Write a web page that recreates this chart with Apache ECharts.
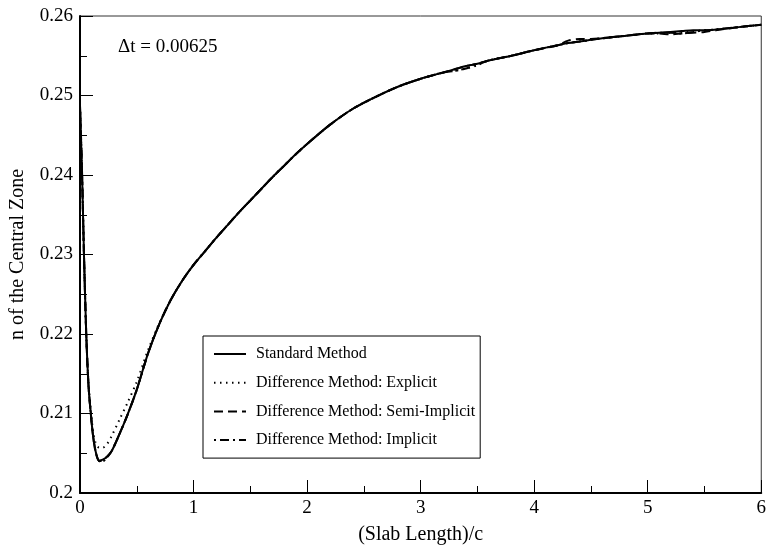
<!DOCTYPE html>
<html>
<head>
<meta charset="utf-8">
<script src="https://cdn.jsdelivr.net/npm/echarts@6/dist/echarts.min.js"></script>
<style>
  html, body { margin: 0; padding: 0; background: #fff; }
  #chart { width: 769px; height: 550px; }
</style>
</head>
<body>
<div id="chart"></div>
<script>
// Shared x values (Slab Length)/c
const xValues = [0, 0.01, 0.02, 0.035, 0.055, 0.075, 0.095, 0.115, 0.14, 0.17,
  0.2, 0.24, 0.28, 0.35, 0.42, 0.5, 0.6, 0.7, 0.8, 0.9,
  1.0, 1.1, 1.2, 1.3, 1.4, 1.5, 1.6, 1.7, 1.8, 1.9,
  2.0, 2.2, 2.4, 2.6, 2.8, 3.0, 3.2, 3.3, 3.4, 3.5,
  3.6, 3.8, 4.0, 4.2, 4.3, 4.4, 4.5, 4.6, 4.8, 5.0,
  5.1, 5.2, 5.3, 5.4, 5.5, 5.6, 5.8, 6.0];

const standardMethod = [0.2487, 0.2440, 0.2390, 0.2300, 0.2200, 0.2135, 0.2100, 0.2072, 0.2051, 0.2041,
  0.2042, 0.2046, 0.2053, 0.2075, 0.2099, 0.2130, 0.2176, 0.2213, 0.2243, 0.2267,
  0.2287, 0.2304, 0.2321, 0.2337, 0.2353, 0.2368, 0.2383, 0.2398, 0.2412, 0.2426,
  0.2439, 0.2463, 0.2483, 0.2498, 0.2511, 0.2521, 0.2529, 0.2533, 0.2537, 0.2540,
  0.2544, 0.2550, 0.2557, 0.2563, 0.2566, 0.2568, 0.2570, 0.2572, 0.2575, 0.2578,
  0.2579, 0.2580, 0.2581, 0.2582, 0.2582, 0.2583, 0.2586, 0.2589];

const explicitMethod = [0.2487, 0.2440, 0.2390, 0.2300, 0.2200, 0.2138, 0.2104, 0.2078, 0.2062, 0.2057,
  0.2057, 0.2062, 0.2072, 0.2093, 0.2114, 0.2140, 0.2180, 0.2214, 0.2243, 0.2267,
  0.2287, 0.2304, 0.2321, 0.2337, 0.2353, 0.2368, 0.2383, 0.2398, 0.2412, 0.2426,
  0.2439, 0.2463, 0.2483, 0.2498, 0.2511, 0.2521, 0.2529, 0.2531, 0.2534, 0.2538,
  0.2544, 0.2550, 0.2557, 0.2563, 0.2566, 0.2568, 0.2570, 0.2572, 0.2575, 0.2578,
  0.2578, 0.2579, 0.2580, 0.2581, 0.2582, 0.2583, 0.2586, 0.2589];

const semiImplicitMethod = [0.2487, 0.2440, 0.2390, 0.2300, 0.2200, 0.2135, 0.2100, 0.2072, 0.2051, 0.2040,
  0.2041, 0.2046, 0.2053, 0.2075, 0.2099, 0.2130, 0.2176, 0.2213, 0.2243, 0.2267,
  0.2287, 0.2304, 0.2321, 0.2337, 0.2353, 0.2368, 0.2383, 0.2398, 0.2412, 0.2426,
  0.2439, 0.2463, 0.2483, 0.2498, 0.2511, 0.2521, 0.2529, 0.2533, 0.2537, 0.2540,
  0.2544, 0.2550, 0.2557, 0.2563, 0.2569, 0.2571, 0.2571, 0.2572, 0.2575, 0.2578,
  0.2578, 0.2577, 0.2578, 0.2579, 0.2580, 0.2582, 0.2586, 0.2589];

const implicitMethod = [0.2487, 0.2445, 0.2393, 0.2300, 0.2200, 0.2135, 0.2100, 0.2072, 0.2050, 0.2040,
  0.2040, 0.2045, 0.2053, 0.2075, 0.2099, 0.2130, 0.2176, 0.2213, 0.2243, 0.2267,
  0.2287, 0.2304, 0.2321, 0.2337, 0.2353, 0.2368, 0.2383, 0.2398, 0.2412, 0.2426,
  0.2439, 0.2463, 0.2483, 0.2498, 0.2511, 0.2521, 0.2529, 0.2531, 0.2534, 0.2539,
  0.2544, 0.2550, 0.2557, 0.2563, 0.2566, 0.2568, 0.2570, 0.2572, 0.2575, 0.2578,
  0.2579, 0.2579, 0.2578, 0.2580, 0.2582, 0.2583, 0.2586, 0.2589];

const seriesNames = ['Standard Method', 'Difference Method: Explicit',
  'Difference Method: Semi-Implicit', 'Difference Method: Implicit'];
const seriesValues = [standardMethod, explicitMethod, semiImplicitMethod, implicitMethod];
const dashTypes = ['solid', [1.5, 4.5], [9, 5], [2, 4, 9, 4]];

const FONT = '"Liberation Serif", "DejaVu Serif", serif';

function pairs(vals) { return xValues.map((x, i) => [x, vals[i]]); }

const chart = echarts.init(document.getElementById('chart'), null, { renderer: 'canvas' });
chart.setOption({
  animation: false,
  backgroundColor: '#fff',
  grid: { left: 78, right: 7, top: 16, bottom: 54, show: true, borderColor: '#333', borderWidth: 1 },
  xAxis: {
    type: 'value', min: 0, max: 6, interval: 1,
    name: '(Slab Length)/c', nameLocation: 'middle', nameGap: 32,
    nameTextStyle: { fontFamily: FONT, fontSize: 20, color: '#000' },
    axisLine: { lineStyle: { color: '#000', width: 2 } },
    axisTick: { inside: true, length: 13, lineStyle: { color: '#000', width: 1 } },
    minorTick: { show: true, splitNumber: 2, length: 7, lineStyle: { color: '#000', width: 1 } },
    splitLine: { show: false },
    axisLabel: { fontFamily: FONT, fontSize: 19, color: '#000', margin: 6 }
  },
  yAxis: {
    type: 'value', min: 0.2, max: 0.26, interval: 0.01,
    name: 'n of the Central Zone', nameLocation: 'middle', nameGap: 52,
    nameTextStyle: { fontFamily: FONT, fontSize: 20, color: '#000' },
    axisLine: { lineStyle: { color: '#000', width: 2 } },
    axisTick: { inside: true, length: 13, lineStyle: { color: '#000', width: 1 } },
    minorTick: { show: true, splitNumber: 2, length: 7, lineStyle: { color: '#000', width: 1 } },
    splitLine: { show: false },
    axisLabel: { fontFamily: FONT, fontSize: 19, color: '#000', margin: 7,
      formatter: v => String(+v.toFixed(2)) }
  },
  legend: {
    orient: 'vertical', left: 203, top: 336,
    data: seriesNames,
    backgroundColor: '#fff',
    borderColor: '#000', borderWidth: 1,
    padding: [10, 5, 10, 10],
    itemWidth: 32, itemHeight: 14, itemGap: 12.7,
    itemStyle: { opacity: 0 },
    textStyle: { fontFamily: FONT, fontSize: 16, color: '#000', padding: [0, 0, 0, 5] }
  },
  graphic: [{
    type: 'text', left: 118, top: 38,
    style: { text: 'Δt = 0.00625', font: '19px "Liberation Serif", serif', fill: '#000' }
  }],
  series: seriesNames.map((name, i) => ({
    name, type: 'line', symbol: 'none', smooth: 0.3,
    data: pairs(seriesValues[i]),
    lineStyle: { color: '#000', width: 2, type: dashTypes[i] },
    itemStyle: { color: '#000' },
    z: 2 + i
  }))
});
</script>
</body>
</html>
